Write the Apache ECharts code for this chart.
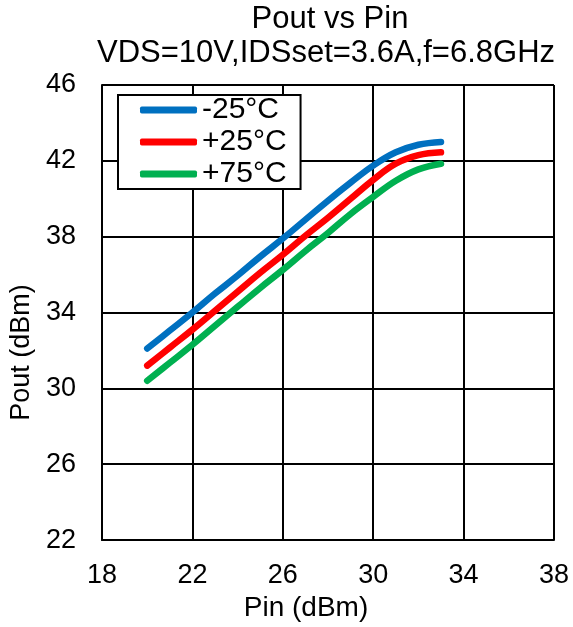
<!DOCTYPE html>
<html>
<head>
<meta charset="utf-8">
<script src="https://cdn.jsdelivr.net/npm/echarts@6/dist/echarts.min.js"></script>
<style>html,body{margin:0;padding:0;background:#fff}#c{width:573px;height:627px}</style>
</head>
<body>
<div id="c"></div>
<script>
var pin = [20, 21, 22, 23, 24, 25, 26, 27, 28, 29, 30, 31, 32, 33];
var poutM25 = [32.1, 33.05, 34.0, 35.0, 35.95, 36.95, 37.9, 38.9, 39.9, 40.85, 41.75, 42.45, 42.85, 43.0];
var poutP25 = [31.2, 32.15, 33.1, 34.1, 35.1, 36.1, 37.05, 38.05, 39.0, 40.0, 41.0, 41.85, 42.3, 42.45];
var poutP75 = [30.4, 31.35, 32.3, 33.3, 34.3, 35.3, 36.25, 37.25, 38.2, 39.2, 40.1, 40.95, 41.55, 41.85];
var seriesNames = ['-25°C', '+25°C', '+75°C'];
var xTicks = [18, 22, 26, 30, 34, 38];
var yTicks = [22, 26, 30, 34, 38, 42, 46];

function pairs(xs, ys) { return xs.map(function (x, i) { return [x, ys[i]]; }); }

var colors = ['#0070C0', '#FF0000', '#00B050'];
var allY = [poutM25, poutP25, poutP75];

var chart = echarts.init(document.getElementById('c'), null, { renderer: 'canvas' });
var f = 'Liberation Sans';
chart.setOption({
  animation: false,
  backgroundColor: '#fff',
  title: [
    { text: 'Pout vs Pin', left: 330, top: 4, padding: 0, textAlign: 'center',
      textStyle: { fontFamily: f, fontSize: 31, fontWeight: 'normal', color: '#000' } },
    { text: 'VDS=10V,IDSset=3.6A,f=6.8GHz', left: 326, top: 38, padding: 0, textAlign: 'center',
      textStyle: { fontFamily: f, fontSize: 31, fontWeight: 'normal', color: '#000' } }
  ],
  legend: {
    data: seriesNames,
    orient: 'vertical',
    left: 118, top: 95,
    padding: [0, 14, 0, 22],
    itemGap: 2,
    itemWidth: 57, itemHeight: 7,
    icon: 'roundRect',
    backgroundColor: '#fff',
    borderColor: '#000', borderWidth: 2, borderRadius: 0,
    textStyle: { fontFamily: f, fontSize: 30, color: '#000', padding: [0, 0, 0, 0] }
  },
  grid: { left: 100, right: 19, top: 85, bottom: 83, containLabel: false },
  xAxis: {
    type: 'value', min: xTicks[0], max: xTicks[xTicks.length - 1], interval: 4,
    name: 'Pin (dBm)', nameLocation: 'middle', nameGap: 44,
    nameTextStyle: { fontFamily: f, fontSize: 28, color: '#000', padding: [0, 44, 0, 0] },
    axisLine: { show: true, onZero: false, lineStyle: { color: '#000', width: 2 } },
    axisTick: { show: false },
    axisLabel: { margin: 22, fontFamily: f, fontSize: 27, color: '#000' },
    splitLine: { show: true, lineStyle: { color: '#000', width: 2 } }
  },
  yAxis: {
    type: 'value', min: yTicks[0], max: yTicks[yTicks.length - 1], interval: 4,
    name: 'Pout (dBm)', nameLocation: 'middle', nameGap: 67, nameRotate: 90,
    nameTextStyle: { fontFamily: f, fontSize: 27, color: '#000', padding: [0, 80, 0, 0] },
    axisLine: { show: true, onZero: false, lineStyle: { color: '#000', width: 2 } },
    axisTick: { show: false },
    axisLabel: { margin: 26, fontFamily: f, fontSize: 27, color: '#000' },
    splitLine: { show: true, lineStyle: { color: '#000', width: 2 } }
  },
  series: seriesNames.map(function (n, i) {
    return {
      name: n, type: 'line', data: pairs(pin, allY[i]), smooth: 0.4,
      showSymbol: false, symbol: 'none', color: colors[i],
      lineStyle: { width: 6.5, color: colors[i], cap: 'round', join: 'round' }
    };
  })
});
</script>
</body>
</html>
